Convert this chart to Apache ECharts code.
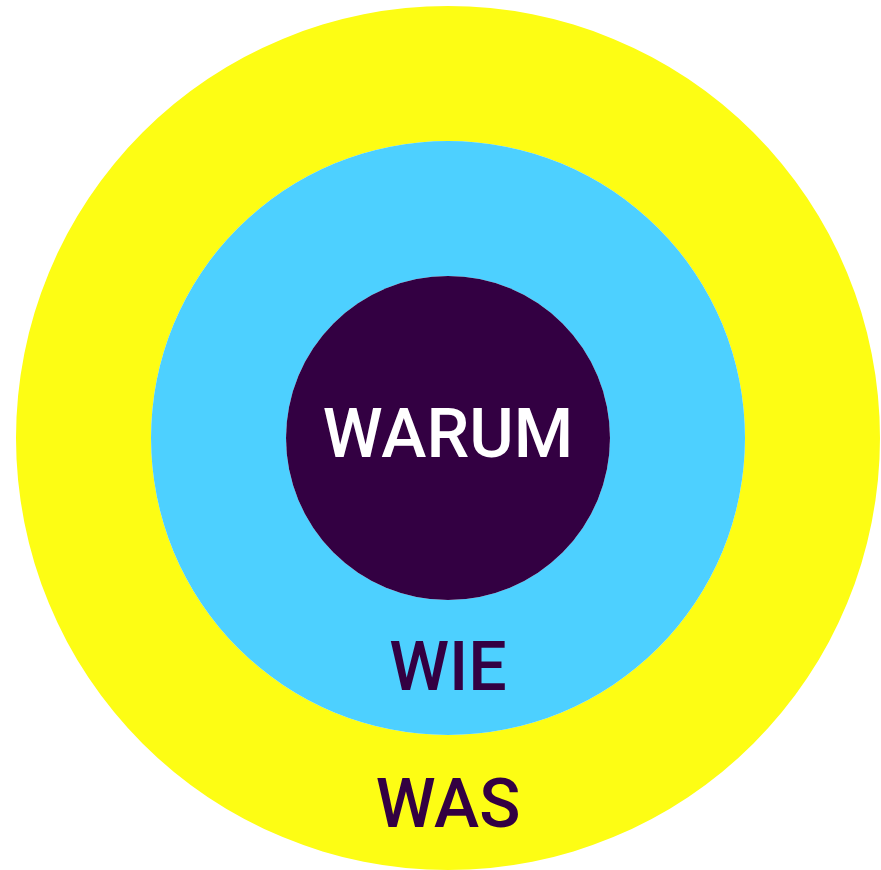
<!DOCTYPE html>
<html>
<head>
<meta charset="utf-8">
<script src="https://cdn.jsdelivr.net/npm/echarts@6/dist/echarts.min.js"></script>
<style>html,body{margin:0;padding:0;background:#fff}#c{width:881px;height:870px}</style>
</head>
<body>
<div id="c"></div>
<script>
const labels = ['WARUM', 'WIE', 'WAS'];
const values = [1, 1, 1];
const fills = ['#330042', '#4DD0FF', '#FDFD14'];
const textColors = ['#FFFFFF', '#330042', '#330042'];
const radii = [[0, 162], [162, 297], [297, 432]];

const chart = echarts.init(document.getElementById('c'), null, {renderer: 'canvas'});
const series = labels.map((name, i) => ({
  type: 'pie',
  center: [448, 438],
  radius: radii[i],
  startAngle: 90,
  silent: true,
  animation: false,
  z: 3 - i,
  data: [{name: name, value: values[i]}],
  itemStyle: {color: fills[i], borderWidth: 0},
  label: {
    show: true,
    position: i === 0 ? 'center' : 'inside',
    formatter: '{b}',
    color: textColors[i],
    fontSize: 68,
    fontWeight: 500,
    fontFamily: 'Roboto, "Noto Sans", sans-serif',
    offset: i === 2 ? [0, 4] : [0, 2]
  },
  labelLine: {show: false},
  emphasis: {disabled: true}
}));
chart.setOption({backgroundColor: '#ffffff', series: series});
</script>
</body>
</html>
